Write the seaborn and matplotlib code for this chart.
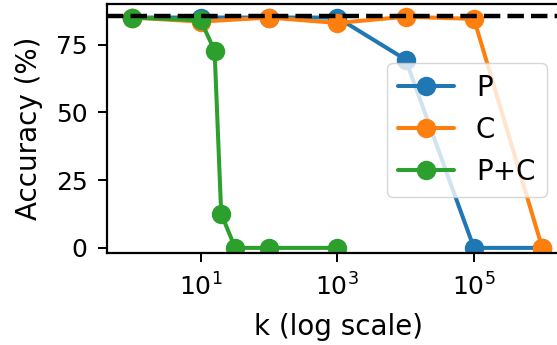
import numpy as np
import pandas as pd
import matplotlib
matplotlib.use("Agg")
import matplotlib.pyplot as plt
import seaborn as sns

# --- data ---
k_p = [1, 10, 100, 1000, 10000, 100000, 1000000]
acc_p = [85, 85, 85, 85, 69.5, 0, 0]

k_c = [1, 10, 100, 1000, 10000, 100000, 1000000]
acc_c = [85, 83.5, 85, 83, 85.3, 84.5, 0]

k_pc = [1, 10, 16, 20, 32, 100, 1000]
acc_pc = [85, 84, 72.8, 12.6, 0, 0, 0]

baseline = 85.5

df = pd.concat([
    pd.DataFrame({'k': k_p, 'acc': acc_p, 'method': 'P'}),
    pd.DataFrame({'k': k_c, 'acc': acc_c, 'method': 'C'}),
    pd.DataFrame({'k': k_pc, 'acc': acc_pc, 'method': 'P+C'}),
])

# --- plot ---
sns.set_style("ticks", {'axes.edgecolor': 'black', 'text.color': 'black',
                        'axes.labelcolor': 'black', 'xtick.color': 'black',
                        'ytick.color': 'black'})
plt.rcParams['font.family'] = ['DejaVu Sans']

fig = plt.figure(figsize=(5.57, 3.45), dpi=100)
ax = fig.add_axes([107.3 / 557, 1 - 253.3 / 345, 0.83, (253.3 - 4) / 345])

sns.lineplot(data=df, x='k', y='acc', hue='method', palette='tab10',
             marker='o', markersize=14, markeredgewidth=0, linewidth=2.9,
             ax=ax)
ax.axhline(baseline, color='black', linestyle='--', linewidth=3.2, zorder=5)

ax.set_xscale('log')
ax.set_xlim(10 ** -0.366, 10 ** 6.4)
ax.set_ylim(-2, 90)
ax.set_yticks([0, 25, 50, 75])
ax.set_xticks([10, 1000, 100000])
ax.minorticks_off()
ax.tick_params(labelsize=18, length=6.8, width=1.4, pad=7.5, colors='black')
for s in ax.spines.values():
    s.set_linewidth(1.6)
    s.set_color('black')

ax.set_xlabel('k (log scale)', fontsize=20, labelpad=9)
ax.set_ylabel('Accuracy (%)', fontsize=20, labelpad=9)

ax.legend(title=None, loc='upper left', bbox_to_anchor=(387 / 557, 1 - 63 / 345),
          bbox_transform=fig.transFigure, borderaxespad=0, fontsize=20)

fig.savefig('out.png', dpi=100)
